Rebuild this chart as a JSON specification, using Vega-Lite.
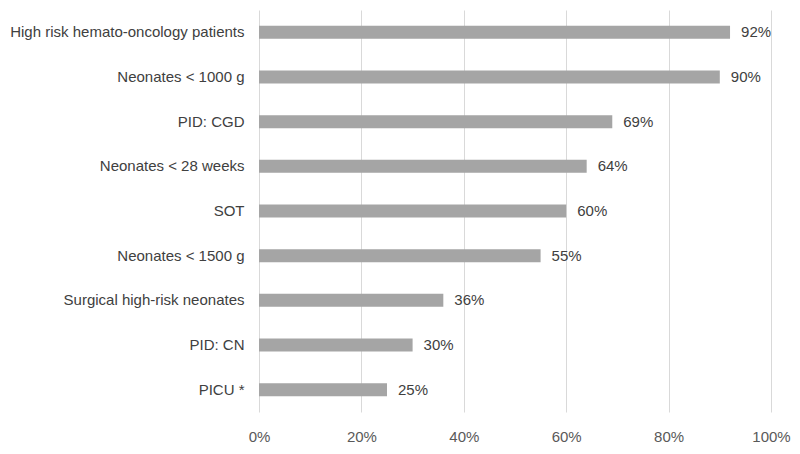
{
  "$schema": "https://vega.github.io/schema/vega-lite/v6.json",
  "autosize": {"type": "none"},
  "width": 512,
  "height": 402,
  "padding": {"left": 259, "top": 10, "right": 29, "bottom": 42},
  "background": "white",
  "config": {"view": {"stroke": null}, "font": "Liberation Sans"},
  "data": {"values": [
    {"group": "High risk hemato-oncology patients", "value": 0.92, "label": "92%"},
    {"group": "Neonates < 1000 g", "value": 0.90, "label": "90%"},
    {"group": "PID: CGD", "value": 0.69, "label": "69%"},
    {"group": "Neonates < 28 weeks", "value": 0.64, "label": "64%"},
    {"group": "SOT", "value": 0.60, "label": "60%"},
    {"group": "Neonates < 1500 g", "value": 0.55, "label": "55%"},
    {"group": "Surgical high-risk neonates", "value": 0.36, "label": "36%"},
    {"group": "PID: CN", "value": 0.30, "label": "30%"},
    {"group": "PICU *", "value": 0.25, "label": "25%"}
  ]},
  "encoding": {
    "y": {
      "field": "group", "type": "nominal", "sort": null, "title": null,
      "scale": {"paddingInner": 0.71, "paddingOuter": 0.355},
      "axis": {
        "domain": false, "ticks": false, "grid": false, "labelFontSize": 15, "labelColor": "#404040", "labelPadding": 15, "labelLimit": 300,
        "encode": {"labels": {"update": {"dx": {"signal": "indexof(datum.label, 'weeks') >= 0 || indexof(datum.label, 'Surgical') >= 0 ? -4 : 0"}}}}
      }
    },
    "x": {
      "field": "value", "type": "quantitative", "title": null,
      "scale": {"domain": [0, 1], "nice": false},
      "axis": {"format": ".0%", "values": [0, 0.2, 0.4, 0.6, 0.8, 1], "domain": false, "ticks": false, "grid": true, "gridColor": "#d9d9d9", "gridWidth": 1, "labelFontSize": 15, "labelColor": "#595959", "labelPadding": 17, "labelFlush": false}
    }
  },
  "layer": [
    {"mark": {"type": "bar", "color": "#a5a5a5"}},
    {"mark": {"type": "text", "align": "left", "dx": 11, "fontSize": 15, "color": "#404040"}, "encoding": {"text": {"field": "label"}}}
  ]
}
